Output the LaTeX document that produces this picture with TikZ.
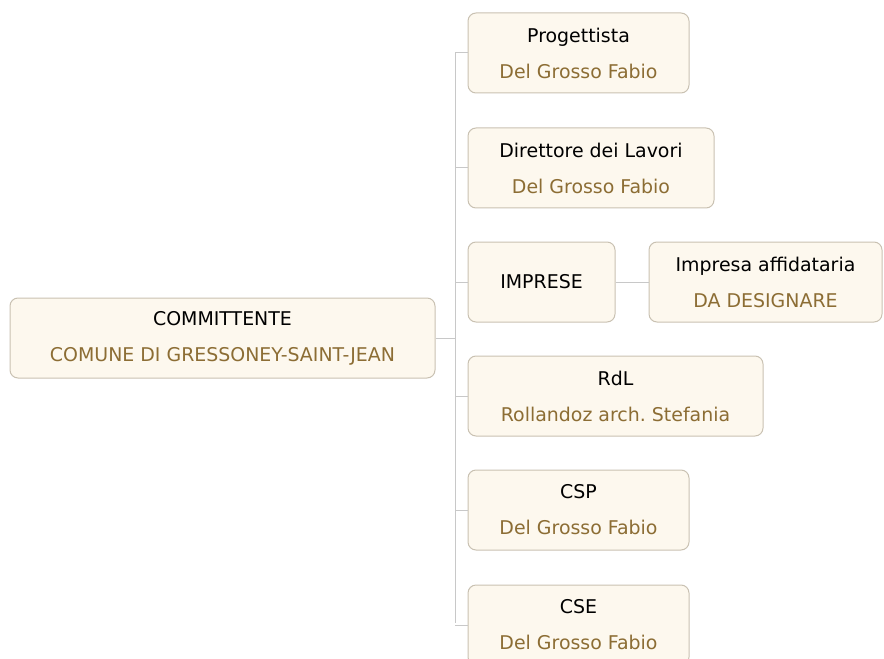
\documentclass[tikz,border=0pt]{standalone}
\usepackage{fontspec}
\setmainfont{DejaVu Sans}
\usepackage{xcolor}
\definecolor{boxfill}{HTML}{FDF8EE}
\definecolor{boxline}{HTML}{C9C1B2}
\definecolor{subtext}{HTML}{8C6D34}
\definecolor{wire}{HTML}{C8C8C8}
\frenchspacing

\begin{document}
\begin{tikzpicture}[x=0.75pt,y=-0.75pt,
  role/.style={shape=rectangle,draw=boxline,fill=boxfill,rounded corners=6pt,line width=0.75pt,
    minimum height=60pt,inner sep=0pt,align=center,font=\fontsize{14.2}{27}\selectfont},
  wire/.style={draw=wire,line width=0.75pt}]
\useasboundingbox (0,0) rectangle (884,659);
\node[role,minimum width=318.75pt] (C) at (222.5,338) {COMMITTENTE\\\textcolor{subtext}{COMUNE DI GRESSONEY-SAINT-JEAN}};
\node[role,minimum width=165.75pt] (P) at (578.5,53) {Progettista\\\textcolor{subtext}{Del Grosso Fabio}};
\node[role,minimum width=184.5pt] (D) at (591,168) {Direttore dei Lavori\\\textcolor{subtext}{Del Grosso Fabio}};
\node[role,minimum width=110.25pt] (I) at (541.5,282) {IMPRESE};
\node[role,minimum width=174.75pt] (IA) at (765.5,282) {Impresa affidataria\\\textcolor{subtext}{DA DESIGNARE}};
\node[role,minimum width=221.25pt] (R) at (615.5,396) {RdL\\\textcolor{subtext}{Rollandoz arch. Stefania}};
\node[role,minimum width=165.75pt] (CSP) at (578.5,510) {CSP\\\textcolor{subtext}{Del Grosso Fabio}};
\node[role,minimum width=165.75pt] (CSE) at (578.5,625) {CSE\\\textcolor{subtext}{Del Grosso Fabio}};
\coordinate (bt) at (455,53);
\coordinate (bb) at (455,623);
\draw[wire] (bt) -- (bb);
\draw[wire] (C.east) -- (C.east -| bt);
\draw[wire] (P.west) -- (P.west -| bt);
\draw[wire] (D.west) -- (D.west -| bt);
\draw[wire] (I.west) -- (I.west -| bt);
\draw[wire] (R.west) -- (R.west -| bt);
\draw[wire] (CSP.west) -- (CSP.west -| bt);
\draw[wire] (CSE.west) -- (CSE.west -| bt);
\draw[wire] (I.east) -- (IA.west);
\end{tikzpicture}
\end{document}
